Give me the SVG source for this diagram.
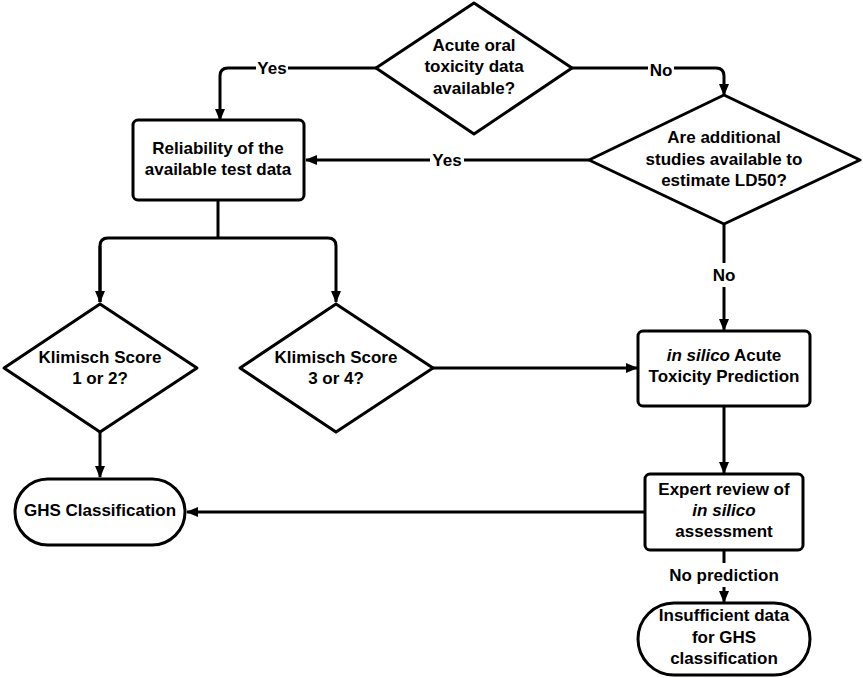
<svg xmlns="http://www.w3.org/2000/svg" width="863" height="678" viewBox="0 0 863 678">
<style>
.s{fill:#fff;stroke:#000;stroke-width:3;stroke-linejoin:round}
.c{fill:none;stroke:#000;stroke-width:3;stroke-linejoin:round}
text{font-family:"Liberation Sans",Arial,sans-serif;font-weight:bold;font-size:17px;text-anchor:middle;fill:#000}
.i{font-style:italic}
.bg{fill:#fff}
</style>
<defs>
<marker id="a" viewBox="0 0 12 10" refX="11" refY="5" markerWidth="12" markerHeight="10" markerUnits="userSpaceOnUse" orient="auto">
<path d="M0,0 L12,5 L0,10 Z" fill="#000"/>
</marker>
</defs>
<g id="connectors">
<path class="c" d="M376,68 H228 Q220,68 220,76 V120" marker-end="url(#a)"/>
<path class="c" d="M572,68 H716 Q724,68 724,76 V95" marker-end="url(#a)"/>
<path class="c" d="M589,160 H306" marker-end="url(#a)"/>
<path class="c" d="M218,200 V238"/>
<path class="c" d="M100,302 V246 Q100,238 108,238 H328 Q336,238 336,246 V302" marker-end="url(#a)"/>
<path class="c" d="M100,246 V302" marker-end="url(#a)"/>
<path class="c" d="M724,224 V330" marker-end="url(#a)"/>
<path class="c" d="M433,368 H637" marker-end="url(#a)"/>
<path class="c" d="M100,432 V477" marker-end="url(#a)"/>
<path class="c" d="M724,406 V473" marker-end="url(#a)"/>
<path class="c" d="M645,512 H187" marker-end="url(#a)"/>
<path class="c" d="M724,550 V602" marker-end="url(#a)"/>
<rect class="bg" x="256" y="58" width="32" height="20"/>
<text x="272" y="74">Yes</text>
<rect class="bg" x="648" y="58" width="26" height="20"/>
<text x="661" y="76">No</text>
<rect class="bg" x="430" y="150" width="34" height="20"/>
<text x="447" y="166">Yes</text>
<rect class="bg" x="710" y="263" width="28" height="24"/>
<text x="724" y="281">No</text>
<rect class="bg" x="664" y="563" width="120" height="24"/>
<text x="724" y="581">No prediction</text>
</g>
<g id="n1">
<path class="s" d="M474,3 L572,68 L474,134 L376,68 Z"/>
<text x="474" y="51">Acute oral</text>
<text x="474" y="72">toxicity data</text>
<text x="474" y="94">available?</text>
</g>
<g id="n2">
<path class="s" d="M724,95 L860,160 L724,224 L589,160 Z"/>
<text x="724" y="143">Are additional</text>
<text x="724" y="165">studies available to</text>
<text x="724" y="186">estimate LD50?</text>
</g>
<g id="n3">
<rect class="s" x="133" y="120" width="171" height="80" rx="5"/>
<text x="218" y="154">Reliability of the</text>
<text x="218" y="175">available test data</text>
</g>
<g id="n4">
<path class="s" d="M100,304 L197,368 L100,432 L4,368 Z"/>
<text x="100" y="363">Klimisch Score</text>
<text x="100" y="384">1 or 2?</text>
</g>
<g id="n5">
<path class="s" d="M336,304 L433,368 L336,432 L240,368 Z"/>
<text x="336" y="363">Klimisch Score</text>
<text x="336" y="384">3 or 4?</text>
</g>
<g id="n6">
<rect class="s" x="638" y="331" width="172" height="75" rx="5"/>
<text x="724" y="361"><tspan class="i">in silico</tspan> Acute</text>
<text x="724" y="382">Toxicity Prediction</text>
</g>
<g id="n7">
<rect class="s" x="15" y="479" width="170" height="66" rx="33"/>
<text x="100" y="516">GHS Classification</text>
</g>
<g id="n8">
<rect class="s" x="645" y="474" width="158" height="76" rx="5"/>
<text x="724" y="495">Expert review of</text>
<text x="724" y="516" class="i">in silico</text>
<text x="724" y="537">assessment</text>
</g>
<g id="n9">
<rect class="s" x="638" y="603" width="172" height="72" rx="36"/>
<text x="724" y="621">Insufficient data</text>
<text x="724" y="643">for GHS</text>
<text x="724" y="664">classification</text>
</g>
</svg>
